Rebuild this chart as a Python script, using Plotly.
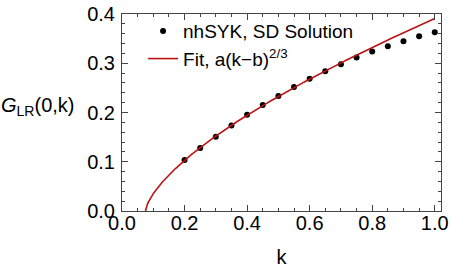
import numpy as np
import plotly.graph_objects as go

# SD solution data points
k_data = [0.20, 0.25, 0.30, 0.35, 0.40, 0.45, 0.50, 0.55, 0.60, 0.65,
          0.70, 0.75, 0.80, 0.85, 0.90, 0.95, 1.00]
g_data = [0.1038, 0.128, 0.151, 0.1737, 0.1955, 0.2152, 0.2334, 0.2516, 0.2684, 0.284,
          0.2982, 0.3117, 0.3239, 0.3346, 0.3447, 0.3549, 0.363]

# Fit parameters a (k - b)^(2/3)
fit_a = 0.4115
fit_b = 0.075
fit_k_max = 1.0

x_ticks = [0.0, 0.2, 0.4, 0.6, 0.8, 1.0]
x_tick_labels = ["0.0", "0.2", "0.4", "0.6", "0.8", "1.0"]
y_ticks = [0.0, 0.1, 0.2, 0.3, 0.4]
y_tick_labels = ["0.0", "0.1", "0.2", "0.3", "0.4"]

k_fit = np.linspace(fit_b, fit_k_max, 400)
g_fit = fit_a * np.power(k_fit - fit_b, 2.0 / 3.0)

FONT = "Liberation Sans, Arial, sans-serif"
FRAME = "#444444"

fig = go.Figure()
fig.add_trace(go.Scatter(
    x=k_data, y=g_data, mode="markers", name="nhSYK, SD Solution",
    marker=dict(color="black", size=6),
))
fig.add_trace(go.Scatter(
    x=k_fit, y=g_fit, mode="lines", name="Fit, a(k\u2212b)<sup>2/3</sup>",
    line=dict(color="rgb(185,20,20)", width=1.6),
))

axis_common = dict(
    showline=True, linecolor=FRAME, linewidth=1, mirror="ticks",
    ticks="inside", ticklen=6, tickcolor=FRAME, tickwidth=1,
    showgrid=False, zeroline=False, automargin=False,
    tickfont=dict(family=FONT, size=20, color="black"),
)

fig.update_xaxes(
    range=[0, 1.02], tickvals=x_ticks, ticktext=x_tick_labels,
    minor=dict(dtick=0.05, ticks="inside", ticklen=3, tickcolor=FRAME),
    ticklabelstandoff=-6,
    title=dict(text="k", font=dict(family=FONT, size=20, color="black"), standoff=16),
    **axis_common,
)
fig.update_yaxes(
    range=[0, 0.4], tickvals=y_ticks, ticktext=y_tick_labels,
    minor=dict(dtick=0.02, ticks="inside", ticklen=3, tickcolor=FRAME),
    ticklabelstandoff=2,
    **axis_common,
)

fig.add_annotation(
    text="<i>G</i><sub>LR</sub>(0,k)", xref="paper", yref="paper",
    x=-0.385, y=0.53, xanchor="left", yanchor="middle", showarrow=False,
    font=dict(family=FONT, size=20, color="black"),
)

fig.update_layout(
    width=452, height=272,
    margin=dict(l=122, r=11, t=14, b=61),
    paper_bgcolor="white", plot_bgcolor="white",
    showlegend=True,
    legend=dict(
        x=0.066, y=1.01, xanchor="left", yanchor="top",
        bgcolor="rgba(0,0,0,0)", font=dict(family=FONT, size=19, color="black"),
        itemwidth=30, tracegroupgap=0,
    ),
)

fig.write_html(
    "out.html",
    config={"displayModeBar": False},
    post_script="document.body.style.margin='0';document.body.style.overflow='hidden';",
)
